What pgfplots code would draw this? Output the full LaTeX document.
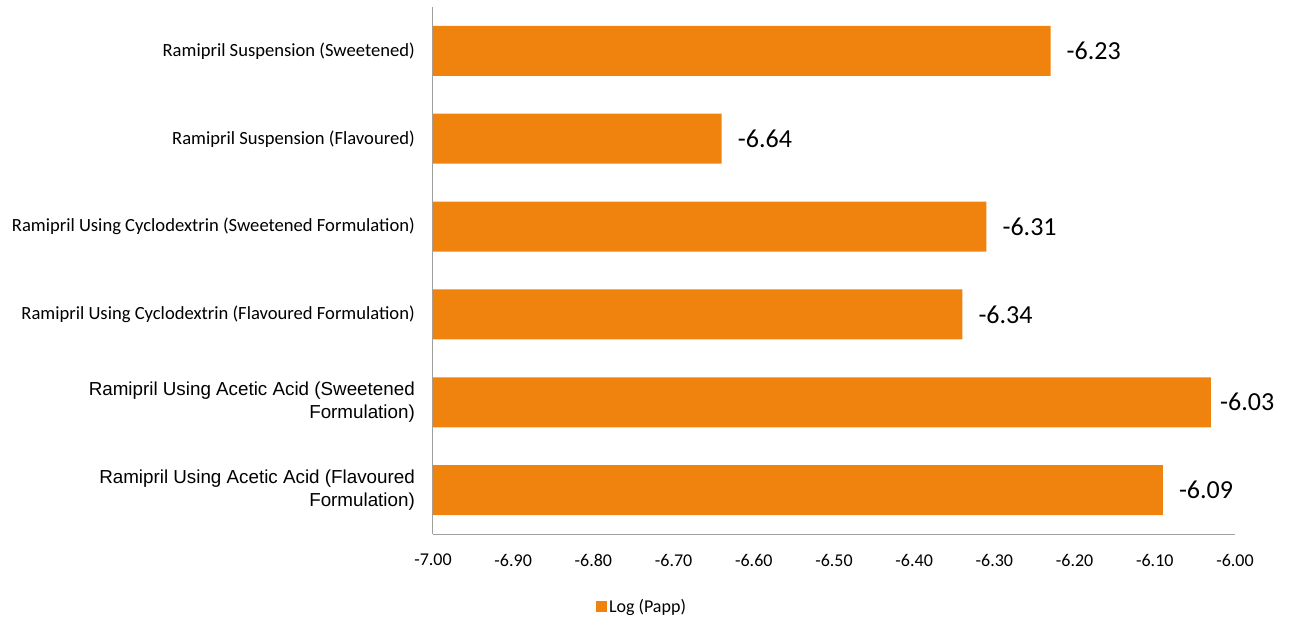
\documentclass[border=0pt]{standalone}
\usepackage{fontspec}
\setmainfont{Carlito}
\newfontfamily\arialfont{Liberation Sans}
\usepackage{pgfplots}
\usepackage{pgfplotstable}
\pgfplotsset{compat=1.18}

\definecolor{barorange}{RGB}{240,130,14}
\definecolor{axisgray}{RGB}{160,160,160}

% two-line labels of the acetic acid rows are set in a sans face
\newcommand\ar{\arialfont\fontsize{18.8}{23}\selectfont}

% Log(Papp) per formulation; idx 0 is the bottom row
\pgfplotstableread{
idx v
0 -6.09
1 -6.03
2 -6.34
3 -6.31
4 -6.64
5 -6.23
}\papp

\begin{document}
\begin{tikzpicture}[x=1pt,y=1pt]
\path[use as bounding box] (-433,-87) rectangle (859,534);
\begin{axis}[
  at={(0,0)}, anchor=south west,
  width=802pt, height=527pt, scale only axis,
  xmin=0, xmax=1, ymin=-0.5, ymax=5.5,
  xbar, bar width=50pt,
  axis x line=bottom, axis y line=left,
  axis line style={-, draw=axisgray, line width=1pt},
  xtick={0,0.1,0.2,0.3,0.4,0.5,0.6,0.7,0.8,0.9,1},
  xticklabels={-7.00,-6.90,-6.80,-6.70,-6.60,-6.50,-6.40,-6.30,-6.20,-6.10,-6.00},
  ytick={0,1,2,3,4,5},
  yticklabels={
    {\ar Ramipril Using Acetic Acid (Flavoured\\\ar Formulation)},
    {\ar Ramipril Using Acetic Acid (Sweetened\\\ar Formulation)},
    Ramipril Using Cyclodextrin (Flavoured Formulation),
    Ramipril Using Cyclodextrin (Sweetened Formulation),
    Ramipril Suspension (Flavoured),
    Ramipril Suspension (Sweetened)},
  major tick length=0pt,
  tick style={draw=none},
  xticklabel style={font=\fontsize{18}{21}\selectfont, anchor=center, inner sep=0pt, yshift=-26pt},
  yticklabel style={font=\fontsize{18.6}{23}\selectfont, anchor=east, align=right, inner sep=0pt, xshift=-18pt},
  legend style={at={(0.2606,-0.1385)}, anchor=center, draw=none, fill=none,
    font=\fontsize{18}{21}\selectfont, inner sep=0pt},
  legend image code/.code={\fill[barorange] (0pt,-5.5pt) rectangle (11pt,5.5pt);},
]
\addplot[fill=barorange, draw=none,
  visualization depends on={y \as \rowidx},
  nodes near coords, point meta=explicit symbolic,
  nodes near coords style={anchor=west, inner sep=0pt,
    xshift={ifthenelse(abs(\rowidx-1)<0.1,9,16)},
    font=\fontsize{26}{30}\selectfont, text=black}]
  table[x expr=\thisrow{v}+7, y=idx, meta=v] {\papp};
\addlegendentry{Log (Papp)}
\end{axis}
\end{tikzpicture}
\end{document}
